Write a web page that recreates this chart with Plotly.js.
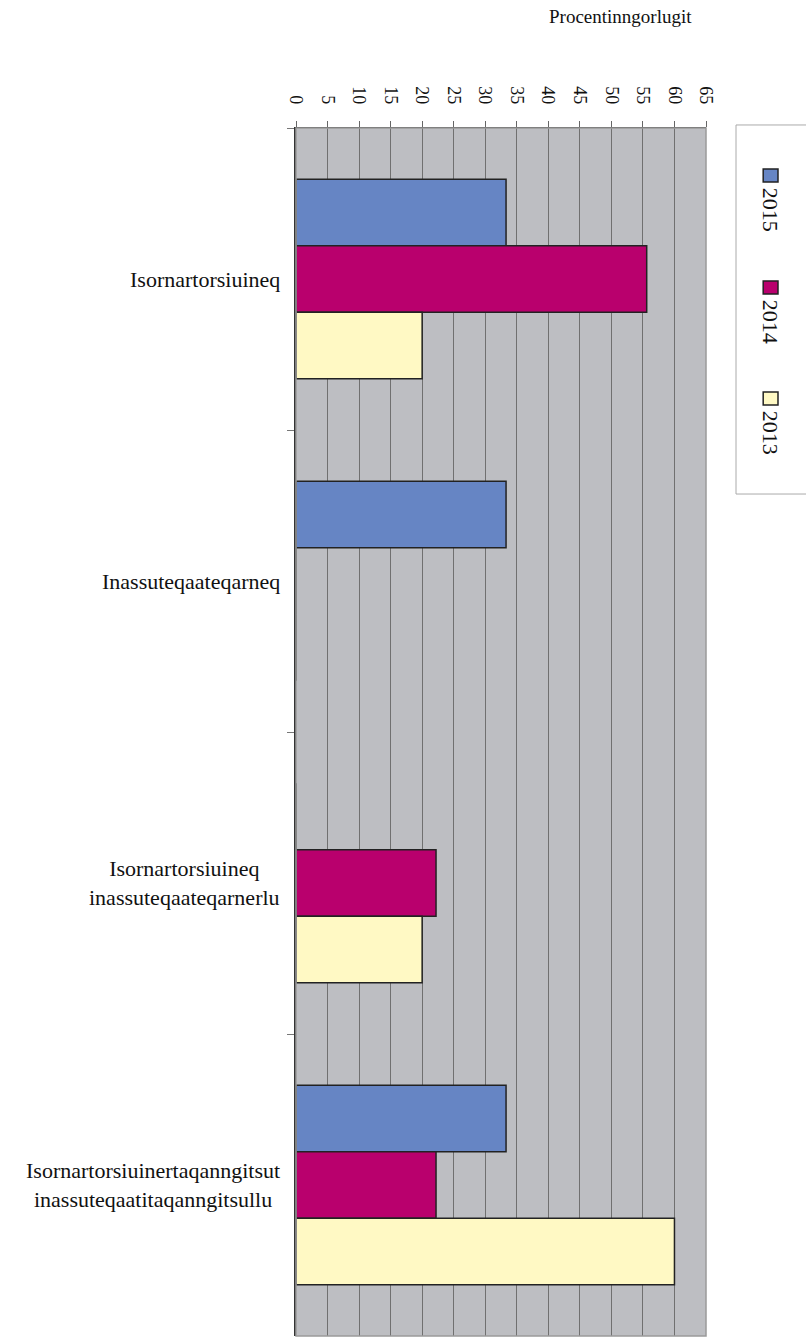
<!DOCTYPE html>
<html>
<head>
<meta charset="utf-8">
<script src="https://cdn.plot.ly/plotly-3.0.1.min.js"></script>
<style>html,body{margin:0;padding:0;background:#fff;}#chart{width:806px;height:1343px;}</style>
</head>
<body>
<div id="chart"></div>
<script>
var categories = [
  "Isornartorsiuineq",
  "Inassuteqaateqarneq",
  "Isornartorsiuineq<br>inassuteqaateqarnerlu",
  "Isornartorsiuinertaqanngitsut<br>inassuteqaatitaqanngitsullu"
];
var seriesNames = ["2015", "2014", "2013"];
var values2015 = [33.3, 33.3, 0, 33.3];
var values2014 = [55.6, 0, 22.2, 22.2];
var values2013 = [20.0, 0, 20.0, 60.0];
var seriesColors = ["#6685C4", "#B9006D", "#FFF9C4"];
var xTicks = [0,5,10,15,20,25,30,35,40,45,50,55,60,65];
var axisTitle = "Procentinngorlugit";

var serif = "Liberation Serif, Times New Roman, serif";
var allValues = [values2015, values2014, values2013];
var traces = allValues.map(function(v, i){
  return {
    type: "bar", orientation: "h",
    x: v, y: categories, name: seriesNames[i],
    marker: {color: seriesColors[i], line: {color: "#222", width: 1.5}},
    showlegend: false, hoverinfo: "x+name"
  };
});

var annotations = categories.map(function(c){
  return {xref: "paper", yref: "y", x: 0, y: c, xanchor: "right", yanchor: "middle",
    xshift: -14, text: c, align: "center", showarrow: false,
    font: {family: serif, size: 22, color: "#111"}};
});
annotations.push({xref: "paper", yref: "paper", x: 0.791, y: 1.0, yshift: 112,
  xanchor: "center", yanchor: "middle", text: axisTitle, showarrow: false,
  font: {family: serif, size: 19, color: "#111"}});

var shapes = [
  {type: "rect", xref: "paper", yref: "paper", x0: 0, x1: 1, y0: 0, y1: 1,
   line: {color: "#9a9a9a", width: 1.5}, layer: "above"},
  {type: "rect", xref: "paper", yref: "paper", x0: 1.0732, x1: 1.26, y0: 0.697, y1: 1.0025,
   line: {color: "#aaaaaa", width: 1}, fillcolor: "rgba(0,0,0,0)"}
];
// legend markers + rotated labels
var legendY = [0.9553, 0.8626, 0.7707];
seriesNames.forEach(function(n, i){
  var ym = legendY[i];
  shapes.push({type: "rect", xref: "paper", yref: "paper",
    x0: 1.1395, x1: 1.1756, y0: ym, y1: ym + 0.0108,
    fillcolor: seriesColors[i], line: {color: "#222", width: 1.5}});
  annotations.push({xref: "paper", yref: "paper", x: 1.158, y: ym - 0.003,
    xanchor: "center", yanchor: "top", text: n, textangle: 90, showarrow: false,
    font: {family: serif, size: 22, color: "#111"}});
});

var layout = {
  width: 806, height: 1343,
  margin: {l: 296, r: 100, t: 128, b: 7},
  paper_bgcolor: "#ffffff", plot_bgcolor: "#BDBEC2",
  barmode: "group", bargap: 0.34, bargroupgap: 0,
  showlegend: false,
  xaxis: {side: "top", range: [0, 65], tickvals: xTicks, ticktext: xTicks.map(String),
    tickangle: 90, ticks: "outside", ticklen: 6, tickcolor: "#666", tickwidth: 1,
    ticklabelstandoff: 10,
    showgrid: true, gridcolor: "#707070", gridwidth: 1, zeroline: false,
    showline: true, linecolor: "#333", linewidth: 1.5,
    tickfont: {family: serif, size: 18, color: "#111"}, fixedrange: true},
  yaxis: {type: "category", autorange: "reversed", showticklabels: false,
    ticks: "outside", tickson: "boundaries", ticklen: 7, tickcolor: "#777",
    showgrid: false, zeroline: false, showline: true, linecolor: "#333", linewidth: 2,
    fixedrange: true},
  annotations: annotations, shapes: shapes
};
Plotly.newPlot("chart", traces, layout, {displayModeBar: false, staticPlot: true});
</script>
</body>
</html>
